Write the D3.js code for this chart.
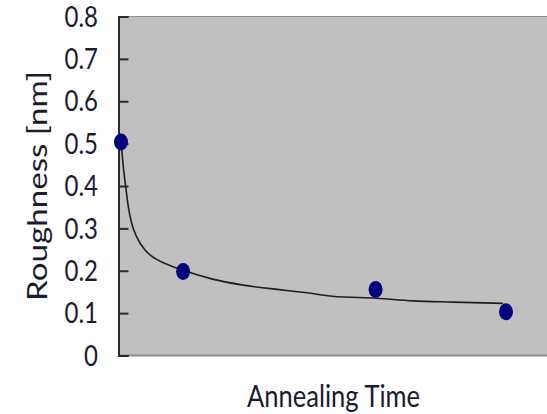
<!DOCTYPE html>
<html>
<head>
<meta charset="utf-8">
<script src="https://cdn.jsdelivr.net/npm/d3@7"></script>
<style>
  html, body { margin: 0; padding: 0; background: #fff; }
  svg { display: block; }
  text { font-family: Lato, "Open Sans", sans-serif; fill: #1b1b30; }
</style>
</head>
<body>
<svg id="chart" width="547" height="414"></svg>
<script>
// Measured samples (annealing time, roughness in nm)
const annealTimes = [0, 10, 41, 62];
const roughness = [0.504, 0.198, 0.156, 0.103];

// Fitted trend curve, sampled along the time axis
const trendTimes = [0, 0.37, 0.76, 1.18, 1.72, 2.53, 3.86, 5.48, 7.09, 9.23, 10.0, 14.3, 19.7, 25.1, 29.9, 34.1, 41.2, 47.0, 53.5, 61.5];
const trendValues = [0.504, 0.446, 0.398, 0.351, 0.312, 0.280, 0.249, 0.229, 0.217, 0.205, 0.201, 0.182, 0.166, 0.156, 0.148, 0.140, 0.135, 0.129, 0.126, 0.123];

const yTicks = [0, 0.1, 0.2, 0.3, 0.4, 0.5, 0.6, 0.7, 0.8];
const yTitle = "Roughness [nm]";
const xTitle = "Annealing Time";

const svg = d3.select("#chart");
const plot = { left: 118.5, top: 16.5, right: 560, bottom: 355.5 };

const x = d3.scaleLinear().domain([0, 62]).range([121, 506]);
const y = d3.scaleLinear().domain([0, 0.8]).range([plot.bottom, plot.top]);

// plot background
svg.append("rect")
  .attr("x", plot.left).attr("y", plot.top)
  .attr("width", plot.right - plot.left).attr("height", plot.bottom - plot.top)
  .attr("fill", "#c0c0c0");

// top and bottom frame lines
svg.append("line")
  .attr("x1", plot.left).attr("x2", plot.right)
  .attr("y1", plot.top).attr("y2", plot.top)
  .attr("stroke", "#8f8f8f").attr("stroke-width", 1.2);
svg.append("line")
  .attr("x1", plot.left).attr("x2", plot.right)
  .attr("y1", plot.bottom).attr("y2", plot.bottom)
  .attr("stroke", "#8a8a8a").attr("stroke-width", 2);

// y axis with inward ticks
const yAxis = d3.axisRight(y).tickValues(yTicks).tickSize(10).tickFormat("");
const yg = svg.append("g").attr("transform", `translate(${plot.left},0)`).call(yAxis);
yg.select(".domain").attr("stroke", "#2a2a2a").attr("stroke-width", 2);
yg.selectAll(".tick line").attr("stroke", "#2a2a2a").attr("stroke-width", 2);

// tick labels
svg.append("g").selectAll("text")
  .data(yTicks)
  .join("text")
  .attr("transform", d => `translate(98,${y(d)}) scale(1,1.18)`)
  .attr("text-anchor", "end")
  .attr("dy", "0.36em")
  .attr("font-size", 24)
  .text(d => d === 0 ? "0" : d3.format(".1f")(d));

// trend curve
const line = d3.line()
  .x(d => x(d[0]))
  .y(d => y(d[1]))
  .curve(d3.curveMonotoneX);
svg.append("path")
  .datum(d3.zip(trendTimes, trendValues))
  .attr("d", line)
  .attr("fill", "none")
  .attr("stroke", "#1e1e1e")
  .attr("stroke-width", 1.6);

// data markers
svg.append("g").selectAll("ellipse")
  .data(d3.zip(annealTimes, roughness))
  .join("ellipse")
  .attr("cx", d => x(d[0]))
  .attr("cy", d => y(d[1]))
  .attr("rx", 7)
  .attr("ry", 8.5)
  .attr("fill", "#02027e");

// axis titles
svg.append("text")
  .attr("transform", "translate(333.5,407) scale(1,1.28)")
  .attr("text-anchor", "middle")
  .attr("font-size", 24)
  .attr("textLength", 173)
  .attr("lengthAdjust", "spacingAndGlyphs")
  .text(xTitle);

svg.append("text")
  .attr("transform", "translate(47,186) rotate(-90)")
  .attr("text-anchor", "middle")
  .attr("font-size", 27)
  .attr("textLength", 230)
  .attr("lengthAdjust", "spacingAndGlyphs")
  .text(yTitle);
</script>
</body>
</html>
